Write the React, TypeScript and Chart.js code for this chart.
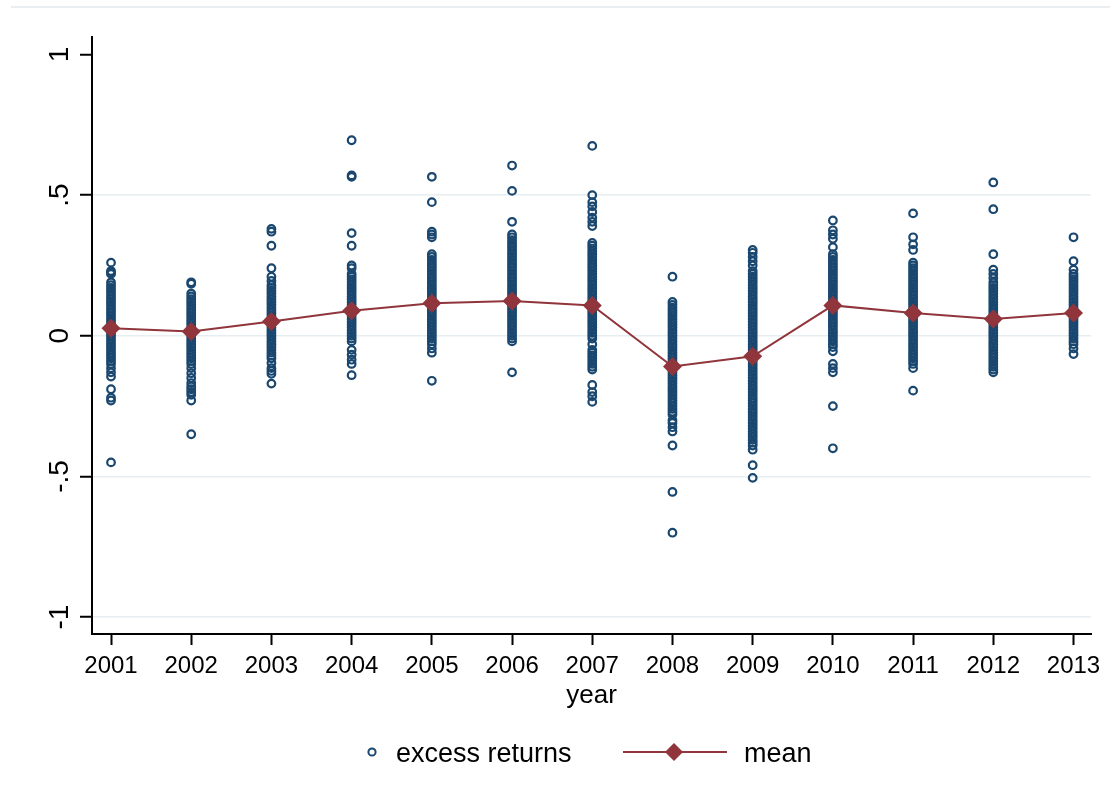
import React, { useEffect, useRef } from "react";
import { Chart, registerables } from "chart.js";

Chart.register(...registerables);

const FONT = "Arial, 'Liberation Sans', sans-serif";
const NAVY = "#1a476f";
const MAROON = "#90353b";

const years = [2001, 2002, 2003, 2004, 2005, 2006, 2007, 2008, 2009, 2010, 2011, 2012, 2013];
const yTickValues = [-1, -0.5, 0, 0.5, 1];
const yTickLabels = ["-1", "-.5", "0", ".5", "1"];

const meanReturns = [0.027, 0.015, 0.051, 0.089, 0.116, 0.124, 0.108, -0.109, -0.073, 0.108, 0.081, 0.060, 0.081];

const returns2001 = [0.26, 0.23, 0.225, 0.22, 0.19, 0.18, 0.17, 0.16, 0.15, 0.14, 0.13, 0.12, 0.11, 0.10, 0.09, 0.08, 0.07, 0.06, 0.05, 0.04, 0.03, 0.02, 0.01, 0.0, -0.01, -0.02, -0.03, -0.04, -0.05, -0.06, -0.07, -0.08, -0.09, -0.10, -0.115, -0.13, -0.145, -0.19, -0.22, -0.23, -0.45];
const returns2002 = [0.19, 0.185, 0.15, 0.14, 0.13, 0.12, 0.11, 0.10, 0.09, 0.08, 0.07, 0.06, 0.05, 0.04, 0.03, 0.02, 0.01, 0.0, -0.01, -0.02, -0.03, -0.04, -0.05, -0.06, -0.07, -0.08, -0.09, -0.10, -0.115, -0.133, -0.15, -0.168, -0.18, -0.19, -0.20, -0.21, -0.23, -0.35];
const returns2003 = [0.38, 0.37, 0.32, 0.24, 0.21, 0.195, 0.18, 0.17, 0.16, 0.15, 0.14, 0.13, 0.12, 0.11, 0.10, 0.09, 0.08, 0.07, 0.06, 0.05, 0.04, 0.03, 0.02, 0.01, 0.0, -0.01, -0.02, -0.03, -0.04, -0.05, -0.06, -0.07, -0.08, -0.097, -0.115, -0.125, -0.135, -0.17];
const returns2004 = [0.695, 0.57, 0.565, 0.365, 0.32, 0.25, 0.24, 0.22, 0.21, 0.20, 0.19, 0.18, 0.17, 0.16, 0.15, 0.14, 0.13, 0.12, 0.11, 0.10, 0.09, 0.08, 0.07, 0.06, 0.05, 0.04, 0.03, 0.02, 0.01, 0.0, -0.01, -0.02, -0.05, -0.067, -0.085, -0.10, -0.14];
const returns2005 = [0.565, 0.475, 0.37, 0.36, 0.35, 0.29, 0.28, 0.27, 0.26, 0.25, 0.24, 0.23, 0.22, 0.21, 0.20, 0.19, 0.18, 0.17, 0.16, 0.15, 0.14, 0.13, 0.12, 0.11, 0.10, 0.09, 0.08, 0.07, 0.06, 0.05, 0.04, 0.03, 0.02, 0.01, 0.0, -0.01, -0.02, -0.03, -0.045, -0.06, -0.16];
const returns2006 = [0.605, 0.515, 0.405, 0.36, 0.35, 0.34, 0.33, 0.32, 0.31, 0.30, 0.29, 0.28, 0.27, 0.26, 0.25, 0.24, 0.23, 0.22, 0.21, 0.20, 0.19, 0.18, 0.17, 0.16, 0.15, 0.14, 0.13, 0.12, 0.11, 0.10, 0.09, 0.08, 0.07, 0.06, 0.05, 0.04, 0.03, 0.02, 0.01, 0.0, -0.01, -0.02, -0.13];
const returns2007 = [0.675, 0.50, 0.475, 0.46, 0.44, 0.42, 0.405, 0.39, 0.33, 0.32, 0.31, 0.30, 0.29, 0.28, 0.27, 0.26, 0.25, 0.24, 0.23, 0.22, 0.21, 0.20, 0.19, 0.18, 0.17, 0.16, 0.15, 0.14, 0.13, 0.12, 0.11, 0.10, 0.09, 0.08, 0.07, 0.06, 0.05, 0.04, 0.03, 0.02, 0.01, 0.0, -0.01, -0.03, -0.05, -0.06, -0.07, -0.08, -0.09, -0.10, -0.11, -0.12, -0.175, -0.20, -0.215, -0.235];
const returns2008 = [0.21, 0.12, 0.11, 0.10, 0.09, 0.08, 0.07, 0.06, 0.05, 0.04, 0.03, 0.02, 0.01, 0.0, -0.01, -0.02, -0.03, -0.04, -0.05, -0.06, -0.07, -0.08, -0.09, -0.10, -0.11, -0.12, -0.13, -0.14, -0.15, -0.16, -0.17, -0.18, -0.19, -0.20, -0.21, -0.22, -0.23, -0.24, -0.25, -0.26, -0.27, -0.28, -0.30, -0.31, -0.325, -0.34, -0.39, -0.555, -0.70];
const returns2009 = [0.305, 0.295, 0.28, 0.265, 0.25, 0.23, 0.22, 0.21, 0.20, 0.19, 0.18, 0.17, 0.16, 0.15, 0.14, 0.13, 0.12, 0.11, 0.10, 0.09, 0.08, 0.07, 0.06, 0.05, 0.04, 0.03, 0.02, 0.01, 0.0, -0.01, -0.02, -0.03, -0.04, -0.05, -0.06, -0.07, -0.08, -0.09, -0.10, -0.11, -0.12, -0.13, -0.14, -0.15, -0.16, -0.17, -0.18, -0.19, -0.20, -0.21, -0.22, -0.23, -0.24, -0.25, -0.26, -0.27, -0.28, -0.29, -0.30, -0.31, -0.32, -0.33, -0.34, -0.35, -0.36, -0.37, -0.38, -0.39, -0.405, -0.46, -0.505];
const returns2010 = [0.41, 0.375, 0.36, 0.345, 0.315, 0.29, 0.28, 0.27, 0.26, 0.25, 0.24, 0.23, 0.22, 0.21, 0.20, 0.19, 0.18, 0.17, 0.16, 0.15, 0.14, 0.13, 0.12, 0.11, 0.10, 0.09, 0.08, 0.07, 0.06, 0.05, 0.04, 0.03, 0.02, 0.01, 0.0, -0.01, -0.02, -0.03, -0.04, -0.055, -0.10, -0.115, -0.13, -0.25, -0.40];
const returns2011 = [0.435, 0.35, 0.325, 0.305, 0.26, 0.25, 0.24, 0.23, 0.22, 0.21, 0.20, 0.19, 0.18, 0.17, 0.16, 0.15, 0.14, 0.13, 0.12, 0.11, 0.10, 0.09, 0.08, 0.07, 0.06, 0.05, 0.04, 0.03, 0.02, 0.01, 0.0, -0.01, -0.02, -0.03, -0.04, -0.05, -0.06, -0.07, -0.08, -0.09, -0.10, -0.115, -0.195];
const returns2012 = [0.545, 0.45, 0.29, 0.235, 0.22, 0.205, 0.19, 0.18, 0.17, 0.16, 0.15, 0.14, 0.13, 0.12, 0.11, 0.10, 0.09, 0.08, 0.07, 0.06, 0.05, 0.04, 0.03, 0.02, 0.01, 0.0, -0.01, -0.02, -0.03, -0.04, -0.05, -0.06, -0.07, -0.08, -0.09, -0.10, -0.11, -0.12, -0.13];
const returns2013 = [0.35, 0.265, 0.235, 0.22, 0.21, 0.20, 0.19, 0.18, 0.17, 0.16, 0.15, 0.14, 0.13, 0.12, 0.11, 0.10, 0.09, 0.08, 0.07, 0.06, 0.05, 0.04, 0.03, 0.02, 0.01, 0.0, -0.01, -0.02, -0.03, -0.045, -0.065];

const returnsByYear = [returns2001, returns2002, returns2003, returns2004, returns2005, returns2006, returns2007, returns2008, returns2009, returns2010, returns2011, returns2012, returns2013];

const decorPlugin = {
  id: "decor",
  afterDraw(chart: any) {
    const { ctx } = chart;
    const ys = chart.scales.y;
    ctx.save();
    // faint top border line
    ctx.strokeStyle = "#e8eef1";
    ctx.lineWidth = 2;
    ctx.beginPath();
    ctx.moveTo(11, 7);
    ctx.lineTo(1110, 7);
    ctx.stroke();

    // rotated y tick labels
    ctx.fillStyle = "#000";
    ctx.font = `28px ${FONT}`;
    ctx.textAlign = "center";
    ctx.textBaseline = "alphabetic";
    yTickValues.forEach((v, i) => {
      const py = ys.getPixelForValue(v);
      ctx.save();
      ctx.translate(68, py);
      ctx.rotate(-Math.PI / 2);
      ctx.fillText(yTickLabels[i], 0, 0);
      ctx.restore();
    });

    // legend
    const ly = 752;
    ctx.strokeStyle = NAVY;
    ctx.lineWidth = 2;
    ctx.beginPath();
    ctx.arc(372, ly, 3.6, 0, Math.PI * 2);
    ctx.stroke();
    ctx.font = `27px ${FONT}`;
    ctx.textAlign = "left";
    ctx.fillStyle = "#000";
    ctx.fillText("excess returns", 396, 762);

    ctx.strokeStyle = MAROON;
    ctx.lineWidth = 2;
    ctx.beginPath();
    ctx.moveTo(623, ly);
    ctx.lineTo(727, ly);
    ctx.stroke();
    ctx.fillStyle = MAROON;
    ctx.beginPath();
    ctx.moveTo(674, ly - 9);
    ctx.lineTo(683, ly);
    ctx.lineTo(674, ly + 9);
    ctx.lineTo(665, ly);
    ctx.closePath();
    ctx.fill();
    ctx.fillStyle = "#000";
    ctx.fillText("mean", 744, 762);
    ctx.restore();
  },
};

export default function App() {
  const canvasRef = useRef<HTMLCanvasElement | null>(null);

  useEffect(() => {
    const canvas = canvasRef.current;
    if (!canvas) return;

    const scatterData: { x: number; y: number }[] = [];
    returnsByYear.forEach((vals, i) => {
      vals.forEach((v) => scatterData.push({ x: years[i], y: v }));
    });
    const meanData = years.map((yr, i) => ({ x: yr, y: meanReturns[i] }));

    const chart = new Chart(canvas, {
      type: "scatter",
      data: {
        datasets: [
          {
            label: "mean",
            data: meanData,
            showLine: true,
            borderColor: MAROON,
            borderWidth: 2,
            backgroundColor: MAROON,
            pointStyle: "rectRot",
            pointRadius: 9.5,
            pointBorderWidth: 0,
            pointBackgroundColor: MAROON,
            order: 0,
          } as any,
          {
            label: "excess returns",
            data: scatterData,
            pointStyle: "circle",
            pointRadius: 3.8,
            borderWidth: 2.2,
            borderColor: NAVY,
            backgroundColor: "rgba(0,0,0,0)",
            order: 1,
          } as any,
        ],
      },
      options: {
        responsive: false,
        animation: false,
        layout: { padding: { left: 0, top: 37, right: 19, bottom: 0 } },
        plugins: {
          legend: { display: false },
          tooltip: { enabled: false },
        },
        scales: {
          x: {
            type: "linear",
            min: 2000.763,
            max: 2013.218,
            afterBuildTicks: (s: any) => {
              s.ticks = years.map((v) => ({ value: v }));
            },
            afterFit: (s: any) => {
              s.height = 174;
            },
            ticks: {
              callback: (v: any) => String(v),
              font: { family: FONT, size: 24 },
              color: "#000",
              padding: 7,
              maxRotation: 0,
              minRotation: 0,
              autoSkip: false,
            },
            grid: {
              drawOnChartArea: false,
              drawTicks: true,
              tickLength: 11,
              tickColor: "#000",
              tickWidth: 2,
            },
            border: { display: true, color: "#000", width: 2 },
            title: {
              display: true,
              text: "year",
              color: "#000",
              font: { family: FONT, size: 26 },
              padding: { top: 0, bottom: 97 },
            },
          },
          y: {
            type: "linear",
            min: -1.06,
            max: 1.062,
            afterBuildTicks: (s: any) => {
              s.ticks = yTickValues.map((v) => ({ value: v }));
            },
            afterFit: (s: any) => {
              s.width = 92;
            },
            ticks: { display: false },
            grid: {
              color: (c: any) => (c.tick && c.tick.value === 1 ? "rgba(0,0,0,0)" : "#e6eef2"),
              lineWidth: 1.5,
              drawTicks: true,
              tickLength: 12,
              tickColor: "#000",
              tickWidth: 2,
            },
            border: { display: true, color: "#000", width: 2 },
          },
        },
      },
      plugins: [decorPlugin],
    });

    return () => chart.destroy();
  }, []);

  return (
    <div style={{ position: "absolute", left: 0, top: 0, width: 1110, height: 808, background: "#fff" }}>
      <canvas ref={canvasRef} width={1110} height={808} style={{ display: "block", width: 1110, height: 808 }} />
    </div>
  );
}
